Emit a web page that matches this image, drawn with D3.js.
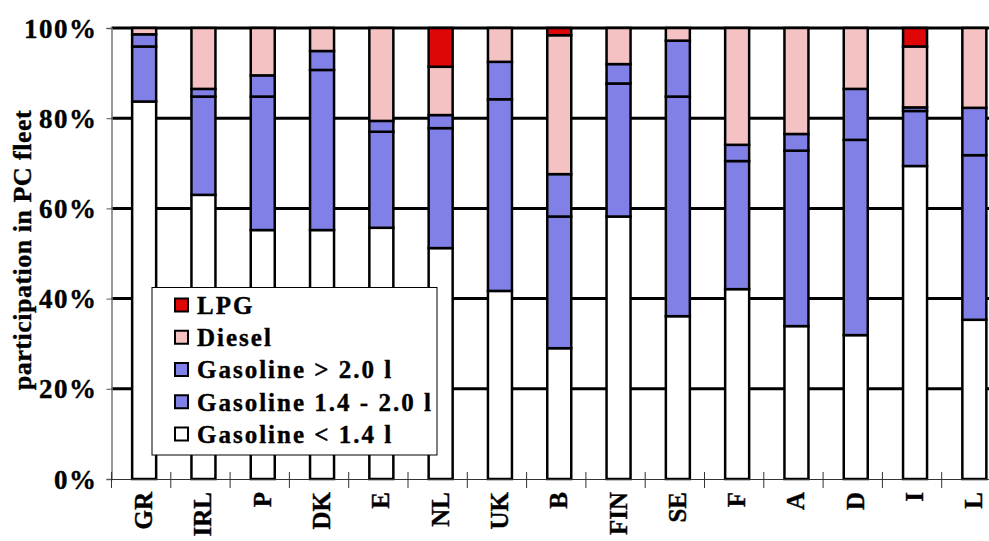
<!DOCTYPE html>
<html>
<head>
<meta charset="utf-8">
<script src="https://cdn.jsdelivr.net/npm/d3@7"></script>
<style>
html,body{margin:0;padding:0;background:#fff;}
svg{display:block;}
text{font-family:"Liberation Serif","Times New Roman",serif;font-weight:bold;fill:#000;stroke:#000;stroke-width:0.4px;}
</style>
</head>
<body>
<svg id="chart" width="989" height="541"></svg>
<script>
const categories = ["GR","IRL","P","DK","E","NL","UK","B","FIN","SE","F","A","D","I","L"];
const gasSmall  = [83.7, 63.0, 55.2, 55.2, 55.7, 51.2, 41.7, 29.0, 58.2, 36.1, 42.1, 33.9, 31.9, 69.4, 35.3];
const gasMid    = [12.2, 21.8, 29.6, 35.5, 21.3, 26.6, 42.5, 29.2, 29.5, 48.7, 28.4, 38.9, 43.3, 12.2, 36.5];
const gasLarge  = [ 2.7,  1.7,  4.7,  4.2,  2.4,  2.9,  8.3,  9.4,  4.3, 12.4,  3.6,  3.7, 11.3,  0.8, 10.5];
const diesel    = [ 1.4, 13.5, 10.5,  5.1, 20.6, 10.7,  7.5, 30.8,  8.0,  2.8, 25.9, 23.5, 13.5, 13.5, 17.7];
const lpg       = [ 0.0,  0.0,  0.0,  0.0,  0.0,  8.6,  0.0,  1.6,  0.0,  0.0,  0.0,  0.0,  0.0,  4.1,  0.0];
const seriesKeys = ["Gasoline < 1.4 l","Gasoline 1.4 - 2.0 l","Gasoline > 2.0 l","Diesel","LPG"];
const yTicks = [0,20,40,60,80,100];
const colors = {"Gasoline < 1.4 l":"#ffffff","Gasoline 1.4 - 2.0 l":"#8080e6","Gasoline > 2.0 l":"#8080e6","Diesel":"#f4c2c2","LPG":"#de0606"};

const seriesArrays = [gasSmall, gasMid, gasLarge, diesel, lpg];
const table = categories.map((c,i)=>{
  const o={cat:c};
  seriesKeys.forEach((k,j)=>o[k]=seriesArrays[j][i]);
  return o;
});
const stacked = d3.stack().keys(seriesKeys)(table);

const svg = d3.select("#chart");
const x0 = 111.5, bandW = 59.3;
const x = d3.scaleBand().domain(categories).range([x0, x0+bandW*categories.length]).padding(0);
const y = d3.scaleLinear().domain([0,100]).range([479,28]);
const barW = 24, barOff = 3;

// gridlines
svg.append("g").selectAll("line").data(yTicks.filter(d=>d>0)).join("line")
  .attr("x1",x0).attr("x2",989).attr("y1",d=>y(d)).attr("y2",d=>y(d))
  .attr("stroke","#000").attr("stroke-width",3);

// bars
const g = svg.append("g");
stacked.forEach(s=>{
  g.append("g").selectAll("rect").data(s.filter(d=>d[1]-d[0]>0)).join("rect")
    .attr("x",d=>x(d.data.cat)+x.bandwidth()/2+barOff-barW/2)
    .attr("width",barW)
    .attr("y",d=>y(d[1]))
    .attr("height",d=>y(d[0])-y(d[1]))
    .attr("fill",colors[s.key])
    .attr("stroke","#000").attr("stroke-width",2.5);
});

// y axis
const yAxis = d3.axisLeft(y).tickValues(yTicks).tickSize(5).tickPadding(9).tickFormat(d=>d+"%");
const ya = svg.append("g").attr("transform",`translate(${x0},0)`).call(yAxis);
ya.select(".domain").attr("stroke","#777").attr("stroke-width",1.5);
ya.selectAll(".tick line").attr("stroke","#555");
ya.selectAll(".tick text").style("font-size","27px").style("letter-spacing","1.5px")
  .style("font-family","'Liberation Serif',serif").style("font-weight","bold").attr("dy","0.34em");

// x axis
const xAxis = d3.axisBottom(x).tickSize(0).tickFormat("");
const xa = svg.append("g").attr("transform","translate(0,479)").call(xAxis);
xa.select(".domain").attr("stroke","#333").attr("stroke-width",1.2);
// category separator ticks
svg.append("g").selectAll("line").data(d3.range(categories.length+1)).join("line")
  .attr("x1",i=>x0+i*bandW).attr("x2",i=>x0+i*bandW)
  .attr("y1",472).attr("y2",488).attr("stroke","#333").attr("stroke-width",1);
// x labels
svg.append("g").selectAll("text").data(categories).join("text")
  .attr("transform",d=>`translate(${x(d)+x.bandwidth()/2+barOff+8},492) rotate(-90)`)
  .attr("text-anchor","end")
  .style("font-size","25px")
  .text(d=>d);

// y title
svg.append("text").attr("transform","translate(31,250) rotate(-90)")
  .attr("text-anchor","middle").style("font-size","26px").style("letter-spacing","0.5px")
  .text("participation in PC fleet");

// legend
const lg = svg.append("g");
lg.append("rect").attr("x",152).attr("y",287.5).attr("width",285).attr("height",167.5)
  .attr("fill","#fff").attr("stroke","#000").attr("stroke-width",1);
const legendItems = seriesKeys.slice().reverse();
const ly = d3.scalePoint().domain(legendItems).range([305,434]);
legendItems.forEach(k=>{
  lg.append("rect").attr("x",175).attr("y",ly(k)-6.5).attr("width",13).attr("height",13)
    .attr("fill",colors[k]).attr("stroke","#000").attr("stroke-width",2);
  lg.append("text").attr("x",197).attr("y",ly(k)).attr("dy","0.35em")
    .style("font-size","25px").style("letter-spacing","2px").text(k);
});
</script>
</body>
</html>
